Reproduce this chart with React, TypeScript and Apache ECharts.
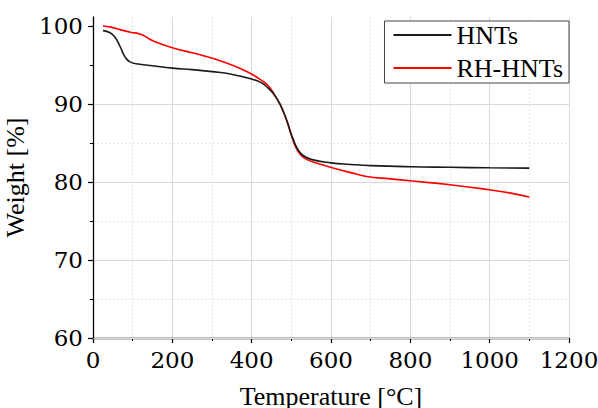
import React, { useEffect, useRef } from "react";
import * as echarts from "echarts";

const hntsTemp = [25, 40, 55, 68, 80, 93, 118, 150, 200, 250, 300, 350, 400, 425, 440, 455, 470, 480, 490, 500, 510, 520, 530, 550, 600, 650, 700, 800, 900, 1000, 1100];
const hntsWeight = [99.4, 99.2, 98.6, 97.4, 96.1, 95.4, 95.1, 94.9, 94.6, 94.4, 94.15, 93.8, 93.2, 92.7, 92.1, 91.3, 90.1, 89.0, 87.7, 86.1, 84.8, 83.9, 83.4, 82.9, 82.45, 82.25, 82.1, 81.95, 81.88, 81.82, 81.78];

const rhTemp = [25, 45, 70, 95, 120, 140, 160, 200, 270, 340, 390, 430, 445, 455, 470, 480, 490, 500, 510, 520, 535, 565, 605, 650, 690, 750, 800, 900, 1000, 1050, 1100];
const rhWeight = [100.0, 99.85, 99.5, 99.2, 98.95, 98.4, 97.9, 97.2, 96.3, 95.2, 94.1, 92.85, 92.15, 91.4, 90.1, 89.0, 87.6, 86.0, 84.6, 83.7, 83.0, 82.4, 81.8, 81.2, 80.7, 80.4, 80.15, 79.65, 79.0, 78.6, 78.07];

const seriesNames = ["HNTs", "RH-HNTs"];
const yMajorTicks = [60, 70, 80, 90, 100];
const yMinorTicks = [65, 75, 85, 95];

const FONT = "Liberation Serif";
const TICK_FONT = "DejaVu Serif";

export default function App() {
  const ref = useRef<HTMLDivElement>(null);
  useEffect(() => {
    if (!ref.current) return;
    const chart = echarts.init(ref.current, null, { renderer: "svg" });
    const pairs = (xs: number[], ys: number[]) => xs.map((x, i) => [x, ys[i]]);
    const labelStyle = { fontSize: 26, color: "#000", fontFamily: FONT };
    const tickStyle = { fontSize: 23, color: "#000", fontFamily: TICK_FONT };
    chart.setOption({
      animation: false,
      backgroundColor: "#fff",
      textStyle: { fontFamily: FONT, fontSize: 26, color: "#000" },
      grid: { left: 93, right: 29, top: 17, bottom: 70, containLabel: false, outerBoundsMode: "none" },
      legend: {
        data: seriesNames,
        orient: "vertical",
        right: 29,
        top: 21,
        backgroundColor: "#fff",
        borderColor: "#444",
        borderWidth: 1,
        padding: [1, 6, 2, 9],
        icon: "rect",
        itemWidth: 58,
        itemHeight: 2,
        itemGap: 7,
        textStyle: { ...labelStyle, lineHeight: 26 },
      },
      xAxis: {
        type: "value",
        min: 0,
        max: 1200,
        interval: 200,
        name: "Temperature [°C]",
        nameLocation: "middle",
        nameGap: 45,
        nameTextStyle: labelStyle,
        axisLine: { show: true, lineStyle: { color: "#000", width: 1.3 } },
        axisTick: { show: true, length: 5, lineStyle: { color: "#000", width: 1.2 } },
        minorTick: { show: true, splitNumber: 2, length: 3, lineStyle: { color: "#000", width: 1 } },
        axisLabel: { ...tickStyle, margin: 10, hideOverlap: false, formatter: (v: number) => String(v) },
        splitLine: { show: true, lineStyle: { color: "#dadada", width: 1 } },
        minorSplitLine: { show: true, lineStyle: { color: "#e4e4e4", width: 1, type: [2, 2] } },
      },
      yAxis: [
        {
          type: "value",
          min: 60,
          max: 101.15,
          interval: 10,
          z: 1,
          position: "left",
          name: "Weight [%]",
          nameLocation: "middle",
          nameGap: 58,
          nameTextStyle: labelStyle,
          axisLine: { show: true, lineStyle: { color: "#000", width: 1.3 } },
          axisTick: { show: true, length: 5, customValues: yMajorTicks, lineStyle: { color: "#000", width: 1.2 } },
          axisLabel: { ...tickStyle, margin: 10, hideOverlap: false, customValues: yMajorTicks, formatter: (v: number) => String(v) },
          splitLine: { show: true, showMaxLine: false, lineStyle: { color: "#dadada", width: 1 } },
        },
        {
          type: "value",
          min: 60,
          max: 101.15,
          interval: 5,
          z: 0,
          position: "left",
          axisLine: { show: false },
          axisTick: { show: true, length: 3, customValues: yMinorTicks, lineStyle: { color: "#000", width: 1 } },
          axisLabel: { show: false },
          splitLine: { show: true, showMaxLine: false, lineStyle: { color: "#e4e4e4", width: 1, type: [2, 2] } },
        },
      ],
      series: [
        {
          name: seriesNames[0],
          type: "line",
          data: pairs(hntsTemp, hntsWeight),
          symbol: "none",
          smooth: true,
          lineStyle: { color: "#1a1a1a", width: 1.6 },
          itemStyle: { color: "#1a1a1a" },
          z: 3,
        },
        {
          name: seriesNames[1],
          type: "line",
          data: pairs(rhTemp, rhWeight),
          symbol: "none",
          smooth: true,
          lineStyle: { color: "#ff0000", width: 1.6 },
          itemStyle: { color: "#ff0000" },
          z: 2,
        },
      ],
    });
    return () => chart.dispose();
  }, []);
  return <div ref={ref} style={{ position: "absolute", left: 0, top: 0, width: 598, height: 408 }} />;
}
